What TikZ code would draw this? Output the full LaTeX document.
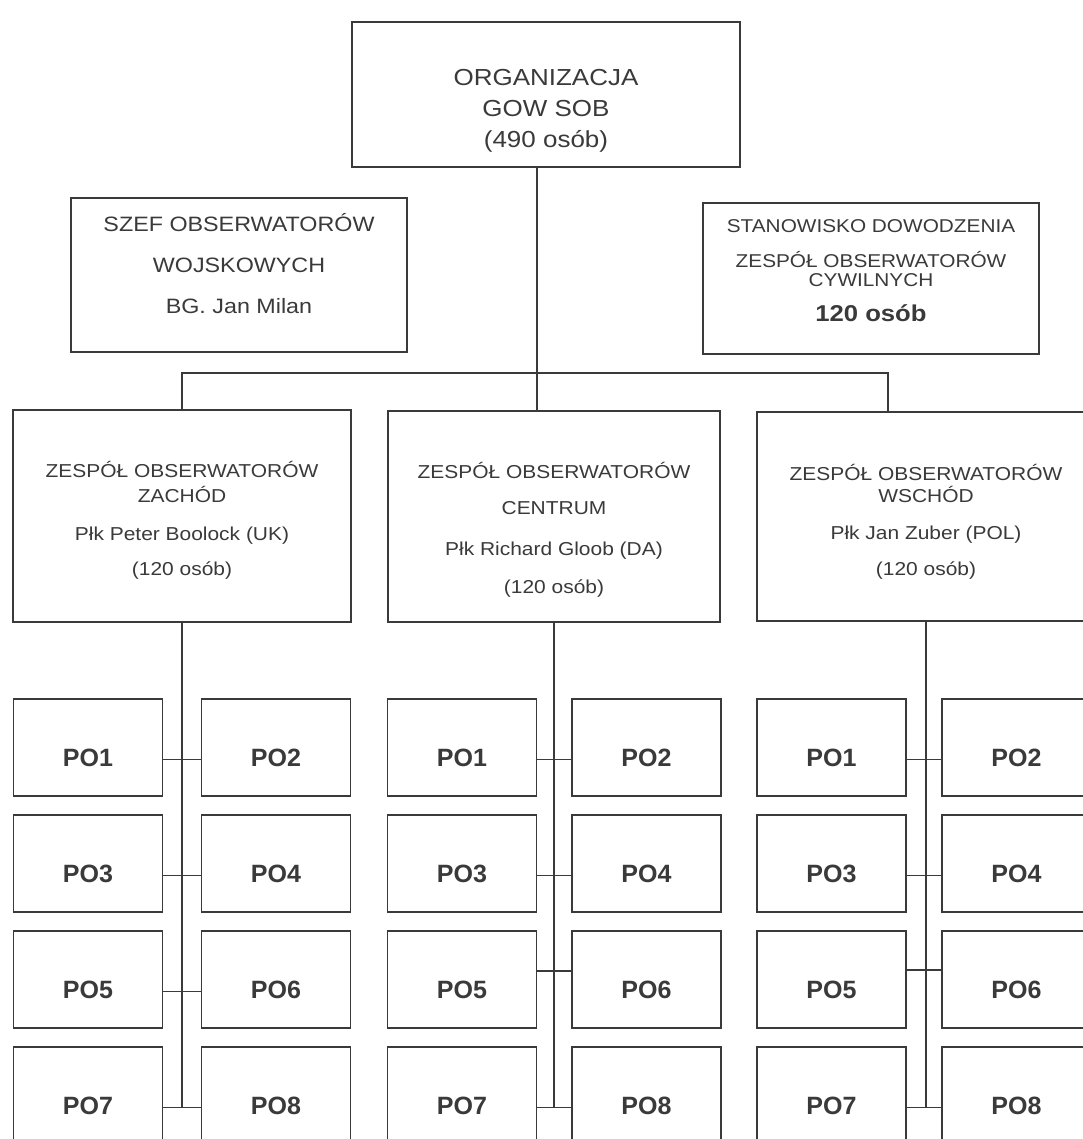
\documentclass[tikz,border=0pt]{standalone}
\usepackage{fontspec}
\setmainfont{Liberation Sans}
\newfontfamily\widesans[FakeStretch=1.12]{Liberation Sans}
\usetikzlibrary{chains,
                positioning}
\definecolor{ink}{HTML}{3A3A3A}

\begin{document}
\begin{tikzpicture}[
            x=0.25mm,y=-0.25mm,
            box/.style={
              draw=ink,
              line width=1.3pt,
              text=ink,
              align=center,
              inner sep=0pt,
              outer sep=0pt,
              anchor=north
            },
            team/.style={
              box,
              minimum width=#1,
              font={\widesans\fontsize{13.3}{17.8}\selectfont}
            },
            po/.style={
              box,
              on chain,
              minimum width=37.25mm,
              text height=16.75mm,
              text depth=7.5mm,
              font={\fontsize{17.8}{20}\selectfont\bfseries}
            },
            link/.style={draw=ink,line width=0.9pt},
            node distance=4.75mm
            ]
            \path[fill=white,use as bounding box] (0,0) rectangle (1083,1139);

            % top of the organisation
            \node[box,minimum width=97mm,text height=31.25mm,text depth=5mm,
              font={\widesans\fontsize{16.5}{22}\selectfont}] (org) at (546,22)
              {ORGANIZACJA\\GOW SOB\\(490 osób)};
            \node[box,minimum width=84mm,text height=28.75mm,text depth=9.75mm,
              font={\widesans\fontsize{14.8}{29}\selectfont}] (szef) at (239,198)
              {SZEF OBSERWATORÓW\\WOJSKOWYCH\\BG. Jan Milan};
            \node[box,minimum width=84mm,text height=29.5mm,text depth=8.25mm,
              font={\widesans\fontsize{13.2}{14.2}\selectfont\lineskiplimit=-20pt}] (stan) at (871,203)
              {STANOWISKO DOWODZENIA\\[10.7pt]ZESPÓŁ OBSERWATORÓW\\CYWILNYCH\\[10pt]%
               {\bfseries\fontsize{16.3}{14.2}\selectfont 120 osób}};

            % the three teams
            \node[team=84.5mm,text height=41.25mm,text depth=11.75mm] (zach) at (182,410)
              {ZESPÓŁ OBSERWATORÓW\\ZACHÓD\\[9.2pt]Płk Peter Boolock (UK)\\[7.1pt](120 osób)};
            \node[team=83mm,text height=45.5mm,text depth=7.25mm] (cent) at (554,411)
              {ZESPÓŁ OBSERWATORÓW\\[8.5pt]CENTRUM\\[10.7pt]Płk Richard Gloob (DA)\\[9.2pt](120 osób)};
            \node[team=84.5mm,text height=40.75mm,text depth=11.5mm] (wsch) at (926,412)
              {ZESPÓŁ OBSERWATORÓW\\[-2.2pt]WSCHÓD\\[8.5pt]Płk Jan Zuber (POL)\\[7.8pt](120 osób)};

            \coordinate (hub) at (537,373);
            \coordinate (hubr) at (888,373);
            \draw[link] (org.south -| hub) -- (cent.north -| hub);
            \draw[link] (zach.north) |- (hubr) -- (wsch.north -| hubr);

            % observer posts, one chain per column
            \begin{scope}[start chain=za going below]
            \node[po] at (88,699) {PO1};
            \node[po] {PO3};
            \node[po] {PO5};
            \node[po] {PO7};
            \end{scope}
            \begin{scope}[start chain=zb going below]
            \node[po] at (276,699) {PO2};
            \node[po] {PO4};
            \node[po] {PO6};
            \node[po] {PO8};
            \end{scope}
            \begin{scope}[start chain=ca going below]
            \node[po] at (462,699) {PO1};
            \node[po] {PO3};
            \node[po] {PO5};
            \node[po] {PO7};
            \end{scope}
            \begin{scope}[start chain=cb going below]
            \node[po] at (646.5,699) {PO2};
            \node[po] {PO4};
            \node[po] {PO6};
            \node[po] {PO8};
            \end{scope}
            \begin{scope}[start chain=wa going below]
            \node[po] at (831.5,699) {PO1};
            \node[po] {PO3};
            \node[po] {PO5};
            \node[po] {PO7};
            \end{scope}
            \begin{scope}[start chain=wb going below]
            \node[po] at (1016.5,699) {PO2};
            \node[po] {PO4};
            \node[po] {PO6};
            \node[po] {PO8};
            \end{scope}

            \draw[link] (zach.south) -- ([yshift=2pt]zach.south |- za-4.mid east);
            \draw[link] (cent.south) -- ([yshift=2pt]cent.south |- ca-4.mid east);
            \draw[link] (wsch.south) -- ([yshift=2pt]wsch.south |- wa-4.mid east);

            \foreach \r in {1,2,3,4}
              \draw[link] ([yshift=2pt]za-\r.mid east) -- ([yshift=2pt]zb-\r.mid west);
            \foreach \r in {1,2,4}{
              \draw[link] ([yshift=2pt]ca-\r.mid east) -- ([yshift=2pt]cb-\r.mid west);
              \draw[link] ([yshift=2pt]wa-\r.mid east) -- ([yshift=2pt]wb-\r.mid west);
            }
            \draw[link] ([yshift=16.6pt]ca-3.mid east) -- ([yshift=16.6pt]cb-3.mid west);
            \draw[link] ([yshift=17.2pt]wa-3.mid east) -- ([yshift=17.2pt]wb-3.mid west);
\end{tikzpicture}
\end{document}
